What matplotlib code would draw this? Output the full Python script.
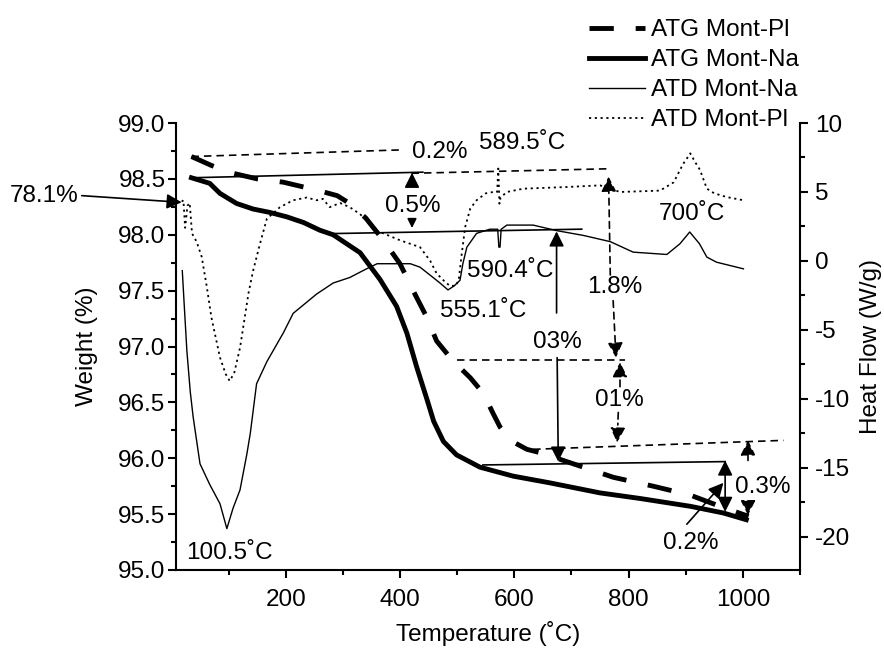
"""TGA / DTA curves of Mont-Na and Mont-Pl."""
import matplotlib
matplotlib.use("Agg")
import matplotlib.pyplot as plt
from matplotlib.ticker import MultipleLocator, FormatStrFormatter

plt.rcParams['font.family'] = ['Liberation Sans', 'DejaVu Sans']
plt.rcParams['axes.unicode_minus'] = False

# ATG curves, weight (%) on the left axis
atg_na_temp = [35, 67, 85, 114, 143, 172, 202, 231, 260, 283, 330, 365, 394, 412,
               429, 447, 459, 476, 499, 540, 598, 662, 750, 820, 908, 966, 1006]
atg_na_weight = [98.51, 98.46, 98.37, 98.28, 98.23, 98.20, 98.16, 98.11, 98.04, 98.00,
                 97.84, 97.60, 97.36, 97.12, 96.82, 96.53, 96.33, 96.15, 96.03, 95.92,
                 95.84, 95.78, 95.69, 95.64, 95.57, 95.51, 95.45]

atg_pl_temp = [35, 70, 108, 150, 196, 254, 290, 312, 340, 371, 400, 423, 447, 464,
               488, 499, 523, 546, 563, 575, 593, 622, 645, 686, 773, 843, 908, 960, 1010]
atg_pl_weight = [98.70, 98.62, 98.55, 98.50, 98.47, 98.40, 98.35, 98.28, 98.15, 97.95,
                 97.74, 97.50, 97.26, 97.05, 96.90, 96.84, 96.72, 96.58, 96.40, 96.28,
                 96.16, 96.08, 96.05, 95.98, 95.83, 95.75, 95.67, 95.57, 95.48]

# ATD curves, heat flow (W/g) on the right axis
atd_na_temp = [19, 22, 27, 33, 38, 50, 67, 85, 97, 108, 120, 132, 138, 149, 167, 196,
               213, 254, 283, 312, 340, 360, 390, 418, 435, 458, 470, 484, 495, 505,
               510, 517, 534, 557, 571, 573, 575, 577, 587, 633, 674, 721, 768, 808,
               867, 890, 907, 924, 937, 954, 1001]
atd_na_flow = [-0.7, -2.9, -6.5, -9.5, -11.3, -14.7, -16.2, -17.6, -19.4, -17.9, -16.6,
               -14.0, -12.5, -8.9, -7.3, -5.2, -3.8, -2.4, -1.6, -1.2, -0.6, -0.2, -0.2,
               -0.2, -0.45, -1.2, -1.6, -2.1, -1.8, -1.4, -0.2, 1.0, 2.0, 2.3, 2.3, 1.0,
               1.0, 2.3, 2.6, 2.6, 2.2, 1.85, 1.4, 0.64, 0.47, 1.25, 2.1, 1.25, 0.28,
               -0.09, -0.57]

atd_pl_temp = [18, 21, 24, 28, 32, 36, 44, 53, 62, 70, 85, 95, 102, 110, 120, 135, 143,
               155, 167, 190, 213, 237, 254, 265, 277, 295, 312, 330, 359, 400, 435,
               453, 464, 476, 487, 498, 503, 508, 514, 523, 534, 550, 563, 570, 572,
               574, 576, 587, 616, 692, 750, 785, 855, 879, 895, 908, 916, 925, 937,
               950, 972, 1001]
atd_pl_flow = [4.3, 4.4, 2.4, 4.0, 4.2, 2.0, 1.4, 0.3, -1.9, -4.1, -7.0, -8.2, -8.7,
               -8.1, -6.3, -2.3, -0.7, 1.25, 3.06, 3.9, 4.4, 4.6, 4.4, 4.5, 3.9, 4.2,
               3.9, 3.4, 2.2, 1.5, 1.0, 0.0, -0.9, -1.4, -1.8, -1.8, -1.3, 0.5, 2.45,
               3.8, 4.4, 4.9, 5.0, 5.0, 6.7, 4.15, 4.6, 5.0, 5.24, 5.36, 5.48, 5.0,
               5.1, 5.7, 7.0, 7.8, 7.2, 6.6, 5.24, 4.9, 4.63, 4.4]

# Annotations, in (temperature, weight) coordinates
labels = [
    ('0.2%', 470, 98.69), ('589.5˚C', 613, 98.77), ('0.5%', 423, 98.20),
    ('700˚C', 911, 98.13), ('590.4˚C', 593, 97.62), ('555.1˚C', 545, 97.26),
    ('1.8%', 776, 97.475), ('03%', 676, 96.99), ('01%', 784, 96.47),
    ('0.3%', 1035, 95.69), ('0.2%', 908, 95.19), ('100.5˚C', 102, 95.10),
    ('78.1%', -223, 98.29),
]
solid_guides = [((35, 98.51), (440, 98.56)), ((277, 98.01), (718, 98.05)),
                ((545, 95.94), (969, 95.97))]
dashed_guides = [((35, 98.70), (406, 98.76)), ((420, 98.55), (762, 98.59)),
                 ((499, 96.875), (794, 96.875)), ((633, 96.08), (1071, 96.16))]
# (tail, tip)
solid_arrows = [((-157, 98.35), (18, 98.29)), ((421, 98.45), (421, 98.555)),
                ((674, 97.30), (674, 98.03)), ((675, 96.90), (677, 95.97)),
                ((902, 95.41), (966, 95.78))]
small_arrows = [((421, 98.13), (421, 98.06))]
double_arrows = [((969, 95.52), (969, 95.98))]
dashed_arrows = [((768, 97.64), (765, 98.52)), ((773, 97.41), (778, 96.90)),
                 ((1009, 95.98), (1009, 96.16)), ((1009, 95.62), (1009, 95.49))]
dashdot_arrows = [((785, 96.64), (785, 96.86)), ((782, 96.41), (780, 96.14))]

FS = 17.5

fig = plt.figure(figsize=(8.84, 6.48), dpi=100)
ax = fig.add_axes([176 / 884, 1 - 570 / 648, 624 / 884, 447 / 648])
ax2 = ax.twinx()

# Curves
l_pl, = ax.plot(atg_pl_temp, atg_pl_weight, color='black', lw=3.5,
                linestyle=(0, (5, 4.5)), label='ATG Mont-Pl')
l_na, = ax.plot(atg_na_temp, atg_na_weight, color='black', lw=3.5,
                label='ATG Mont-Na')
d_na, = ax2.plot(atd_na_temp, atd_na_flow, color='black', lw=1.0,
                 label='ATD Mont-Na')
d_pl, = ax2.plot(atd_pl_temp, atd_pl_flow, color='black', lw=1.3,
                 linestyle=(0, (1.2, 2)), label='ATD Mont-Pl')

# Guide lines and arrows
for (x0, y0), (x1, y1) in solid_guides:
    ax.plot([x0, x1], [y0, y1], color='black', lw=1.2)
for (x0, y0), (x1, y1) in dashed_guides:
    ax.plot([x0, x1], [y0, y1], color='black', lw=1.2, linestyle=(0, (4.5, 3)))

def arrow(tail, tip, style='-|>', ls='-', scale=15):
    ax.annotate('', xy=tip, xytext=tail, annotation_clip=False,
                arrowprops=dict(arrowstyle=f'{style},head_length=0.6,head_width=0.3',
                                color='black', lw=1.2, linestyle=ls,
                                shrinkA=0, shrinkB=0, mutation_scale=scale))

for tail, tip in solid_arrows:
    arrow(tail, tip)
for tail, tip in small_arrows:
    arrow(tail, tip, scale=9)
for tail, tip in double_arrows:
    arrow(tail, tip, style='<|-|>')
for tail, tip in dashed_arrows:
    arrow(tail, tip, ls=(0, (4, 3)))
for tail, tip in dashdot_arrows:
    arrow(tail, tip, ls=(0, (4, 2.5, 1, 2.5)))

for text, x, y in labels:
    ax.text(x, y, text, fontsize=FS, ha='center', va='baseline', clip_on=False)

# Axes
ax.set_xlim(8, 1100)
ax.set_ylim(95, 99)
ax2.set_ylim(-22.4, 10)

ax.xaxis.set_major_locator(MultipleLocator(200))
ax.xaxis.set_minor_locator(MultipleLocator(100))
ax.yaxis.set_major_locator(MultipleLocator(0.5))
ax.yaxis.set_minor_locator(MultipleLocator(0.25))
ax.yaxis.set_major_formatter(FormatStrFormatter('%.1f'))
ax2.yaxis.set_major_locator(MultipleLocator(5))
ax2.yaxis.set_minor_locator(MultipleLocator(2.5))

for a in (ax, ax2):
    for side in ('top', 'left', 'right', 'bottom'):
        a.spines[side].set_linewidth(1.5)
    a.spines['top'].set_visible(False)
    a.tick_params(which='major', direction='out', length=6, width=1.5,
                  labelsize=FS)
    a.tick_params(which='minor', direction='out', length=3.5, width=1.5)
ax.spines['right'].set_visible(False)
ax2.spines['left'].set_visible(False)
ax2.spines['bottom'].set_visible(False)
ax.tick_params(axis='x', which='major', pad=8)
ax.tick_params(axis='y', which='major', pad=1.5)
ax2.tick_params(axis='y', which='major', pad=5)

ax.set_xlabel('Temperature (˚C)', fontsize=FS)
ax.set_ylabel('Weight (%)', fontsize=FS)
ax2.set_ylabel('Heat Flow (W/g)', fontsize=FS)
ax.xaxis.set_label_coords(0.5, -0.115)
ax.yaxis.set_label_coords(-0.125, 0.5)
ax2.yaxis.set_label_coords(1.096, 0.5)

fig.legend(handles=[l_pl, l_na, d_na, d_pl], loc='upper left',
           bbox_to_anchor=(589 / 884, 1 - 19 / 648), frameon=False,
           fontsize=FS, handlelength=2.3, handletextpad=0.25,
           labelspacing=0.33, borderpad=0, borderaxespad=0)

fig.savefig('out.png', dpi=100)
